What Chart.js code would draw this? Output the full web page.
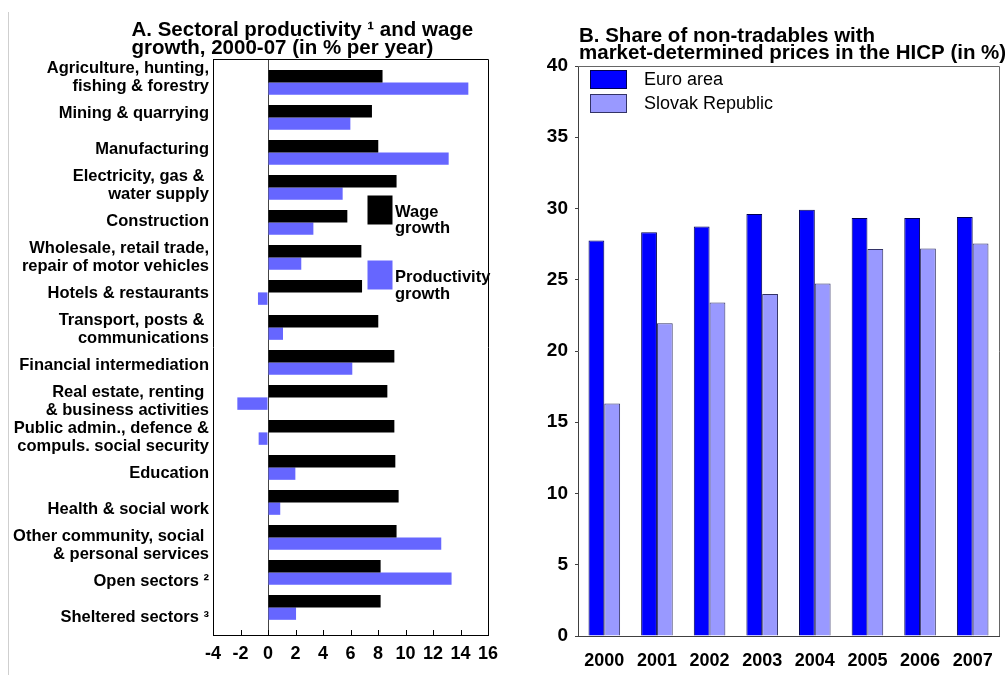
<!DOCTYPE html>
<html>
<head>
<meta charset="utf-8">
<title>Sectoral productivity and non-tradables</title>
<script src="https://cdn.jsdelivr.net/npm/chart.js@4.4.0/dist/chart.umd.min.js"></script>
<style>
  body { margin: 0; background: #fff; }
  #wrap { position: relative; width: 1005px; height: 675px; }
  #panelA { position: absolute; left: 0; top: 0; }
  #panelB { position: absolute; left: 500px; top: 0; }
  #edge { position: absolute; left: 8px; top: 12px; height: 663px; border-left: 1px solid #cfcfcf; }
</style>
</head>
<body>
<div id="wrap">
  <div id="edge"></div>
  <canvas id="panelA" width="500" height="675"></canvas>
  <canvas id="panelB" width="505" height="675"></canvas>
</div>
<script>
// ---- panel A data ----
var sectors = [
  ["Agriculture, hunting,", "fishing & forestry"],
  "Mining & quarrying",
  "Manufacturing",
  ["Electricity, gas & ", "water supply"],
  "Construction",
  ["Wholesale, retail trade,", "repair of motor vehicles"],
  "Hotels & restaurants",
  ["Transport, posts & ", "communications"],
  "Financial intermediation",
  ["Real estate, renting ", "& business activities"],
  ["Public admin., defence &", "compuls. social security"],
  "Education",
  "Health & social work",
  ["Other community, social ", "& personal services"],
  "Open sectors \u00b2",
  "Sheltered sectors \u00b3"
];
var wageGrowth = [8.33, 7.56, 8.02, 9.35, 5.77, 6.79, 6.84, 8.02, 9.19, 8.68, 9.19, 9.26, 9.5, 9.35, 8.19, 8.19];
var prodGrowth = [14.57, 5.99, 13.14, 5.43, 3.3, 2.42, -0.73, 1.09, 6.13, -2.23, -0.68, 1.99, 0.89, 12.6, 13.35, 2.04];
var xTicksA = [-4, -2, 0, 2, 4, 6, 8, 10, 12, 14, 16];
var titleA = ["A. Sectoral productivity \u00b9 and wage", "growth, 2000-07 (in % per year)"];

// ---- panel B data ----
var years = ["2000", "2001", "2002", "2003", "2004", "2005", "2006", "2007"];
var euroArea = [27.75, 28.33, 28.73, 29.61, 29.92, 29.33, 29.33, 29.4];
var slovakRep = [16.31, 21.94, 23.4, 24.0, 24.73, 27.16, 27.2, 27.54];
var yTicksB = [0, 5, 10, 15, 20, 25, 30, 35, 40];
var titleB = ["B. Share of non-tradables with", "market-determined prices in the HICP (in %)"];

Chart.defaults.font.family = "'Liberation Sans', Arial, sans-serif";
Chart.defaults.color = '#000';

var FONT_LAB = "bold 16.5px 'Liberation Sans', Arial, sans-serif";
var FONT_TITLE = "bold 20.5px 'Liberation Sans', Arial, sans-serif";

// frame, inward ticks, legend and title for panel A
var extrasA = {
  id: 'extrasA',
  afterDraw: function(chart) {
    var ctx = chart.ctx, a = chart.chartArea, xs = chart.scales.x;
    ctx.save();
    ctx.strokeStyle = '#000';
    ctx.lineWidth = 1;
    ctx.beginPath();
    ctx.moveTo(a.left, Math.round(a.top) + 0.5);
    ctx.lineTo(Math.round(a.right) + 0.5, Math.round(a.top) + 0.5);
    ctx.lineTo(Math.round(a.right) + 0.5, a.bottom);
    xs.ticks.forEach(function(t) {
      var px = Math.round(xs.getPixelForValue(t.value)) + 0.5;
      ctx.moveTo(px, a.bottom);
      ctx.lineTo(px, a.bottom - 5);
    });
    ctx.stroke();

    // legend
    ctx.font = FONT_LAB;
    ctx.fillStyle = '#000';
    var boxTop = [195.5, 260.5], base = [[216.5, 233], [281.5, 298.5]];
    chart.data.datasets.forEach(function(ds, i) {
      ctx.fillStyle = ds.backgroundColor;
      ctx.fillRect(367.5, boxTop[i], 25, 29);
      ctx.fillStyle = '#000';
      ctx.textAlign = 'left';
      ctx.textBaseline = 'alphabetic';
      ds.label.split(' ').forEach(function(w, j) {
        ctx.fillText(w, 395, base[i][j]);
      });
    });

    // title
    ctx.font = FONT_TITLE;
    ctx.fillText(titleA[0], 131.5, 36);
    ctx.fillText(titleA[1], 131.5, 53.5);
    ctx.restore();
  }
};

new Chart(document.getElementById('panelA'), {
  type: 'bar',
  data: {
    labels: sectors,
    datasets: [
      {
        label: 'Wage growth',
        data: wageGrowth.map(function(v, i) { return {x: v, y: i}; }),
        backgroundColor: '#000000',
        yAxisID: 'yb',
        categoryPercentage: 0.71,
        barPercentage: 1.0
      },
      {
        label: 'Productivity growth',
        data: prodGrowth.map(function(v, i) { return {x: v, y: i}; }),
        backgroundColor: '#6666ff',
        yAxisID: 'yb',
        categoryPercentage: 0.71,
        barPercentage: 1.0
      }
    ]
  },
  options: {
    indexAxis: 'y',
    responsive: false,
    animation: false,
    devicePixelRatio: 1,
    layout: { padding: { top: 59, right: 12, left: 0, bottom: 0 } },
    plugins: { legend: { display: false }, tooltip: { enabled: false } },
    scales: {
      x: {
        type: 'linear',
        min: -4, max: 16,
        afterBuildTicks: function(s) { s.ticks = xTicksA.map(function(v) { return {value: v}; }); },
        afterFit: function(s) { s.height = 40; s.paddingLeft = 0; s.paddingRight = 0; },
        grid: {
          drawTicks: false,
          color: function(c) { return c.tick && c.tick.value === 0 ? '#444' : 'rgba(0,0,0,0)'; }
        },
        border: { color: '#000' },
        ticks: { font: { size: 18, weight: 'bold' }, padding: 8, autoSkip: false, maxRotation: 0 }
      },
      y: {
        type: 'category',
        position: 'left',
        afterFit: function(s) { s.width = 213; },
        grid: { display: false, drawTicks: false },
        border: { color: '#000' },
        ticks: { font: { size: 16.5, weight: 'bold', lineHeight: 1.09 }, padding: 4, autoSkip: false }
      },
      yb: {
        type: 'linear',
        display: false,
        offset: false,
        reverse: true,
        min: -0.669, max: 15.789,
        afterBuildTicks: function(s) { s.ticks = sectors.map(function(c, i) { return {value: i}; }); }
      }
    }
  },
  plugins: [extrasA]
});

// frame, legend and title for panel B
var extrasB = {
  id: 'extrasB',
  afterDraw: function(chart) {
    var ctx = chart.ctx, a = chart.chartArea;
    ctx.save();
    ctx.strokeStyle = '#666';
    ctx.lineWidth = 1;
    ctx.beginPath();
    ctx.moveTo(a.left, Math.round(a.top) + 0.5);
    ctx.lineTo(Math.round(a.right) + 0.5, Math.round(a.top) + 0.5);
    ctx.lineTo(Math.round(a.right) + 0.5, a.bottom);
    ctx.stroke();

    ctx.font = "18px 'Liberation Sans', Arial, sans-serif";
    ctx.textAlign = 'left';
    ctx.textBaseline = 'middle';
    var boxTop = [70.5, 94.5];
    chart.data.datasets.forEach(function(ds, i) {
      ctx.fillStyle = ds.backgroundColor;
      ctx.fillRect(90.5, boxTop[i], 36, 18);
      ctx.strokeStyle = ds.borderColor;
      ctx.strokeRect(90.5, boxTop[i], 36, 18);
      ctx.fillStyle = '#000';
      ctx.fillText(ds.label, 144, boxTop[i] + 9.5);
    });

    ctx.font = FONT_TITLE;
    ctx.textBaseline = 'alphabetic';
    ctx.fillText(titleB[0], 79, 41.5);
    ctx.fillText(titleB[1], 79, 59);
    ctx.restore();
  }
};

new Chart(document.getElementById('panelB'), {
  type: 'bar',
  data: {
    labels: years,
    datasets: [
      {
        label: 'Euro area',
        data: euroArea,
        backgroundColor: '#0000ff',
        borderColor: '#000050',
        borderWidth: 1,
        categoryPercentage: 0.6,
        barPercentage: 1.0
      },
      {
        label: 'Slovak Republic',
        data: slovakRep,
        backgroundColor: '#9999ff',
        borderColor: '#333366',
        borderWidth: 1,
        categoryPercentage: 0.6,
        barPercentage: 1.0
      }
    ]
  },
  options: {
    responsive: false,
    animation: false,
    devicePixelRatio: 1,
    layout: { padding: { top: 66, right: 6, left: 0, bottom: 0 } },
    plugins: { legend: { display: false }, tooltip: { enabled: false } },
    scales: {
      x: {
        afterFit: function(s) { s.height = 39; s.paddingLeft = 0; s.paddingRight = 0; },
        grid: { display: false },
        border: { color: '#404040' },
        ticks: { font: { size: 18, weight: 'bold' }, padding: 6, autoSkip: false, maxRotation: 0 }
      },
      y: {
        min: 0, max: 40,
        afterBuildTicks: function(s) { s.ticks = yTicksB.map(function(v) { return {value: v}; }); },
        afterFit: function(s) { s.width = 78; },
        grid: { drawOnChartArea: false, tickLength: 3, color: '#404040' },
        border: { color: '#404040' },
        ticks: { font: { size: 19, weight: 'bold' }, padding: 7 }
      }
    }
  },
  plugins: [extrasB]
});
</script>
</body>
</html>
